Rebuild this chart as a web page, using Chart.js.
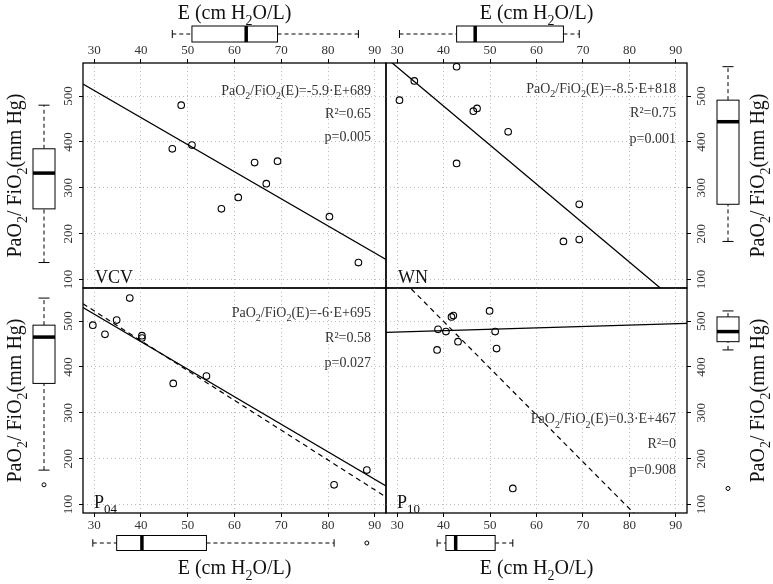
<!DOCTYPE html>
<html lang="en">
<head>
<meta charset="UTF-8">
<title>PaO2/FiO2 vs E</title>
<style>
  body { margin: 0; background: #fff; }
  #wrap { position: relative; width: 773px; height: 584px; background: #fff; overflow: hidden; }
  #wrap canvas { position: absolute; }
</style>
</head>
<body>
<div id="wrap">
  <canvas id="cTL"></canvas>
  <canvas id="cTR"></canvas>
  <canvas id="cBL"></canvas>
  <canvas id="cBR"></canvas>
</div>
<script src="https://cdn.jsdelivr.net/npm/chart.js"></script>
<script>
// axes
const xTicks = [30, 40, 50, 60, 70, 80, 90];
const yTicks = [100, 200, 300, 400, 500];
const xRange = [27.6, 92.4];
const yRange = [81.5, 572];

// E (cm H2O/L) and PaO2/FiO2 (mm Hg)
const vcvE = [48.6, 46.7, 50.9, 64.3, 69.2, 66.8, 60.8, 57.2, 80.3, 86.5];
const vcvP = [480, 385, 393, 355, 358, 309, 279, 254, 237, 137];
const wnE = [42.8, 33.7, 30.5, 46.4, 47.2, 53.9, 42.8, 69.2, 65.8, 69.2];
const wnP = [564, 533, 491, 467, 473, 422, 353, 264, 183, 187];
const p04E = [37.6, 29.7, 34.8, 32.3, 40.2, 40.2, 54.0, 46.9, 88.3, 81.3];
const p04P = [550, 491, 502, 471, 468, 463, 380, 364, 175, 143];
const p10E = [49.9, 41.7, 42.1, 38.8, 40.5, 51.1, 43.1, 51.4, 38.6, 54.9];
const p10P = [522, 509, 512, 482, 477, 477, 455, 440, 437, 135];

// fitted lines as printed in each panel
const fitSlope = [-5.9, -8.5, -6, 0.3];
const fitIntercept = [689, 818, 695, 467];
const fitR2 = ['0.65', '0.75', '0.58', '0'];
const fitP = ['0.005', '0.001', '0.027', '0.908'];
// dashed lines in the lower panels
const refSlope = [-6.5, -10.2];
const refIntercept = [717, 907];

// marginal boxplots: [lower whisker, Q1, median, Q3, upper whisker] + outliers
const vcvEBox = [46.7, 50.9, 62.5, 69.2, 86.5], vcvEOut = [];
const wnEBox = [30.5, 42.8, 46.8, 65.8, 69.2], wnEOut = [];
const p04EBox = [29.7, 34.8, 40.2, 54.0, 81.3], p04EOut = [88.3];
const p10EBox = [38.6, 40.5, 42.6, 51.1, 54.9], p10EOut = [];
const vcvPBox = [137, 254, 332, 385, 480], vcvPOut = [];
const wnPBox = [183, 264, 444, 491, 564], wnPOut = [];
const p04PBox = [175, 364, 465, 491, 550], p04POut = [143];
const p10PBox = [437, 455, 477, 509, 522], p10POut = [135];

const FONT = "'Liberation Serif', 'Times New Roman', serif";
const INK = '#111';
const GREY = '#333';
Chart.defaults.font.family = FONT;

const xTitle = [['E (cm H'], ['2', 1], ['O/L)']];
const yTitle = [['PaO'], ['2', 1], ['/ FiO'], ['2', 1], ['(mm Hg)']];

function drawRich(ctx, parts, x, y, align, size, color) {
  const subSize = Math.round(size * 0.72);
  let w = 0;
  parts.forEach(p => {
    ctx.font = (p[1] ? subSize : size) + 'px ' + FONT;
    w += ctx.measureText(p[0]).width;
  });
  let cx = align === 'right' ? x - w : align === 'center' ? x - w / 2 : x;
  ctx.fillStyle = color || INK;
  ctx.textAlign = 'left';
  ctx.textBaseline = 'alphabetic';
  parts.forEach(p => {
    ctx.font = (p[1] ? subSize : size) + 'px ' + FONT;
    ctx.fillText(p[0], cx, y + (p[1] ? size * 0.3 : 0));
    cx += ctx.measureText(p[0]).width;
  });
}

function seg(ctx, x1, y1, x2, y2) {
  ctx.beginPath();
  ctx.moveTo(x1, y1);
  ctx.lineTo(x2, y2);
  ctx.stroke();
}

// boxplot along a value axis; pos() maps value -> pixel, c = centre across, h = box thickness
function boxplot(ctx, st, out, pos, c, h, horiz) {
  const v = st.map(pos);
  const L = (a1, b1, a2, b2) => horiz ? seg(ctx, a1, b1, a2, b2) : seg(ctx, b1, a1, b2, a2);
  ctx.strokeStyle = '#000';
  ctx.lineWidth = 1;
  ctx.setLineDash([4, 3]);
  L(v[0], c, v[1], c);
  L(v[3], c, v[4], c);
  ctx.setLineDash([]);
  L(v[0], c - h / 4, v[0], c + h / 4);
  L(v[4], c - h / 4, v[4], c + h / 4);
  ctx.fillStyle = '#fff';
  if (horiz) {
    ctx.fillRect(v[1], c - h / 2, v[3] - v[1], h);
    ctx.strokeRect(v[1], c - h / 2, v[3] - v[1], h);
  } else {
    ctx.fillRect(c - h / 2, v[3], h, v[1] - v[3]);
    ctx.strokeRect(c - h / 2, v[3], h, v[1] - v[3]);
  }
  ctx.lineWidth = 3.5;
  L(v[2], c - h / 2, v[2], c + h / 2);
  ctx.lineWidth = 1;
  out.forEach(o => {
    const q = pos(o);
    ctx.beginPath();
    if (horiz) ctx.arc(q, c, 2, 0, Math.PI * 2);
    else ctx.arc(c, q, 2, 0, Math.PI * 2);
    ctx.stroke();
  });
}

const panels = [
  { id: 'cTL', left: 0, top: 0, w: 390, h: 292, pad: { left: 0, top: 0, right: 4, bottom: 4 },
    xPos: 'top', yPos: 'left', xSize: 63, ySize: 83, k: 0, ref: null,
    E: vcvE, P: vcvP, eBox: vcvEBox, eOut: vcvEOut, pBox: vcvPBox, pOut: vcvPOut,
    hBoxY: 34, hBoxH: 16, vBoxX: 44, vBoxW: 22, yLabX: 69, yTitleX: 21, xTitleY: 19,
    label: [['VCV']], labX: 95, labY: 283, eqX: 371, eqY: [95, 117.7, 140.7] },
  { id: 'cTR', left: 384, top: 0, w: 389, h: 292, pad: { left: 2, top: 0, right: 0, bottom: 4 },
    xPos: 'top', yPos: 'right', xSize: 63, ySize: 86, k: 1, ref: null,
    E: wnE, P: wnP, eBox: wnEBox, eOut: wnEOut, pBox: wnPBox, pOut: wnPOut,
    hBoxY: 34, hBoxH: 16, vBoxX: 728, vBoxW: 22, yLabX: 702, yTitleX: 764, xTitleY: 19,
    label: [['WN']], labX: 398, labY: 283, eqX: 676, eqY: [92.7, 116.7, 142.7] },
  { id: 'cBL', left: 0, top: 286, w: 390, h: 298, pad: { left: 0, top: 2, right: 4, bottom: 0 },
    xPos: 'bottom', yPos: 'left', xSize: 71, ySize: 83, k: 2, ref: 0,
    E: p04E, P: p04P, eBox: p04EBox, eOut: p04EOut, pBox: p04PBox, pOut: p04POut,
    hBoxY: 543, hBoxH: 15, vBoxX: 44, vBoxW: 22, yLabX: 69, yTitleX: 21, xTitleY: 574,
    label: [['P'], ['04', 1]], labX: 94, labY: 508, eqX: 371, eqY: [316.7, 341.7, 367.3] },
  { id: 'cBR', left: 384, top: 286, w: 389, h: 298, pad: { left: 2, top: 2, right: 0, bottom: 0 },
    xPos: 'bottom', yPos: 'right', xSize: 71, ySize: 86, k: 3, ref: 1,
    E: p10E, P: p10P, eBox: p10EBox, eOut: p10EOut, pBox: p10PBox, pOut: p10POut,
    hBoxY: 543, hBoxH: 15, vBoxX: 728, vBoxW: 22, yLabX: 702, yTitleX: 764, xTitleY: 574,
    label: [['P'], ['10', 1]], labX: 397, labY: 508, eqX: 676, eqY: [423.3, 448.3, 474.3] }
];

function decor(p) {
  return {
    id: 'decor',
    afterDraw(chart) {
      const ctx = chart.ctx, a = chart.chartArea;
      const X = v => chart.scales.x.getPixelForValue(v) + p.left;
      const Y = v => chart.scales.y.getPixelForValue(v) + p.top;
      const L = a.left + p.left, R = a.right + p.left, T = a.top + p.top, B = a.bottom + p.top;
      ctx.save();
      ctx.translate(-p.left, -p.top);

      // panel frame
      ctx.strokeStyle = '#000';
      ctx.lineWidth = 1.3;
      ctx.strokeRect(L, T, R - L, B - T);

      // rotated y tick labels
      ctx.fillStyle = GREY;
      ctx.font = '13px ' + FONT;
      ctx.textAlign = 'center';
      ctx.textBaseline = 'middle';
      yTicks.forEach(v => {
        ctx.save();
        ctx.translate(p.yLabX, Y(v));
        ctx.rotate(-Math.PI / 2);
        ctx.fillText(String(v), 0, 0);
        ctx.restore();
      });

      // axis titles
      drawRich(ctx, xTitle, (L + R) / 2, p.xTitleY, 'center', 20);
      ctx.save();
      ctx.translate(p.yTitleX, (T + B) / 2);
      ctx.rotate(-Math.PI / 2);
      drawRich(ctx, yTitle, 0, 0, 'center', 20);
      ctx.restore();

      // fit annotation
      const k = p.k;
      drawRich(ctx, [['PaO'], ['2', 1], ['/FiO'], ['2', 1], ['(E)=' + fitSlope[k] + '·E+' + fitIntercept[k]]],
        p.eqX, p.eqY[0], 'right', 14, GREY);
      drawRich(ctx, [['R²=' + fitR2[k]]], p.eqX, p.eqY[1], 'right', 14, GREY);
      drawRich(ctx, [['p=' + fitP[k]]], p.eqX, p.eqY[2], 'right', 14, GREY);

      // panel label
      drawRich(ctx, p.label, p.labX, p.labY, 'left', 18, INK);

      // marginal boxplots
      boxplot(ctx, p.eBox, p.eOut, X, p.hBoxY, p.hBoxH, true);
      boxplot(ctx, p.pBox, p.pOut, Y, p.vBoxX, p.vBoxW, false);

      ctx.restore();
    }
  };
}

function makePanel(p) {
  const cv = document.getElementById(p.id);
  cv.width = p.w;
  cv.height = p.h;
  cv.style.left = p.left + 'px';
  cv.style.top = p.top + 'px';
  cv.style.width = p.w + 'px';
  cv.style.height = p.h + 'px';

  const datasets = [{
    data: p.E.map((e, i) => ({ x: e, y: p.P[i] })),
    pointStyle: 'circle',
    pointRadius: 3.3,
    borderWidth: 1.1,
    borderColor: '#000',
    backgroundColor: 'rgba(0,0,0,0)'
  }, {
    data: xRange.map(e => ({ x: e, y: fitSlope[p.k] * e + fitIntercept[p.k] })),
    showLine: true,
    pointRadius: 0,
    borderColor: '#000',
    borderWidth: 1.3
  }];
  if (p.ref !== null) {
    datasets.push({
      data: xRange.map(e => ({ x: e, y: refSlope[p.ref] * e + refIntercept[p.ref] })),
      showLine: true,
      pointRadius: 0,
      borderColor: '#000',
      borderWidth: 1.2,
      borderDash: [5, 4]
    });
  }

  const grid = {
    color: '#bdbdbd',
    lineWidth: 1,
    drawTicks: true,
    tickLength: 4,
    tickColor: '#000',
    tickWidth: 1
  };

  new Chart(cv, {
    type: 'scatter',
    data: { datasets },
    options: {
      responsive: false,
      animation: false,
      devicePixelRatio: 1,
      events: [],
      layout: { autoPadding: false, padding: p.pad },
      plugins: { legend: { display: false }, tooltip: { enabled: false } },
      scales: {
        x: {
          type: 'linear', position: p.xPos, min: xRange[0], max: xRange[1],
          afterBuildTicks: s => { s.ticks = xTicks.map(v => ({ value: v })); },
          afterFit: s => { s.height = p.xSize; },
          grid: grid,
          border: { display: false, dash: [1, 3] },
          ticks: { font: { family: FONT, size: 13 }, color: GREY, padding: 1, maxRotation: 0, autoSkip: false }
        },
        y: {
          type: 'linear', position: p.yPos, min: yRange[0], max: yRange[1],
          afterBuildTicks: s => { s.ticks = yTicks.map(v => ({ value: v })); },
          afterFit: s => { s.width = p.ySize; },
          grid: grid,
          border: { display: false, dash: [1, 3] },
          ticks: { display: false }
        }
      }
    },
    plugins: [decor(p)]
  });
}

panels.forEach(makePanel);
</script>
</body>
</html>
